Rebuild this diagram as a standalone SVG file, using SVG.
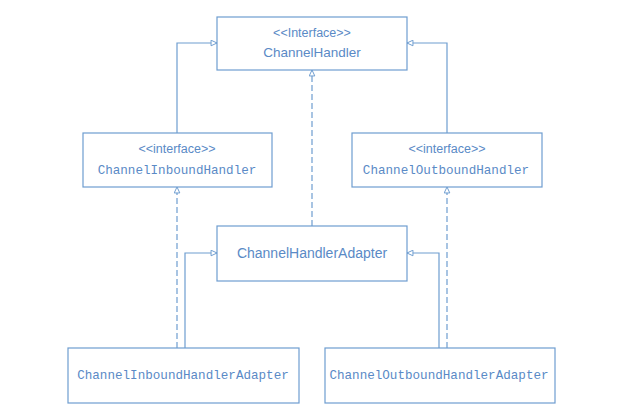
<svg xmlns="http://www.w3.org/2000/svg" width="626" height="419" viewBox="0 0 626 419">
<style>
.box{fill:#ffffff;stroke:#6e9dd0;stroke-width:1.2}
.sans{font-family:"Liberation Sans","DejaVu Sans",sans-serif;fill:#5a8ac6;text-anchor:middle}
.mono{font-family:"Liberation Mono","DejaVu Sans Mono",monospace;fill:#5a8ac6;text-anchor:middle;font-size:12.6px}
.line{fill:none;stroke:#6e9dd0;stroke-width:1.2;marker-end:url(#tri)}
.dash{stroke-dasharray:6 3}
</style>
<defs>
<marker id="tri" viewBox="0 0 10 10" refX="9.5" refY="5" markerWidth="7" markerHeight="7" markerUnits="userSpaceOnUse" orient="auto">
<path d="M1,1 L9.5,5 L1,9 Z" fill="#ffffff" stroke="#6e9dd0" stroke-width="1.4"/>
</marker>
</defs>
<rect width="626" height="419" fill="#ffffff"/>
<g id="connectors">
<path class="line" d="M177,133 V43 H217"/>
<path class="line" d="M447,133 V43 H407"/>
<path class="line dash" d="M312,226 V70"/>
<path class="line dash" d="M177,348 V187"/>
<path class="line dash" d="M447,348 V187"/>
<path class="line" d="M185,348 V253 H217"/>
<path class="line" d="M439,348 V253 H407"/>
</g>
<g id="ChannelHandler">
<rect class="box" x="217" y="17" width="190" height="53"/>
<text class="sans" x="312" y="37" font-size="12.5">&lt;&lt;Interface&gt;&gt;</text>
<text class="sans" x="312" y="57" font-size="13.5">ChannelHandler</text>
</g>
<g id="ChannelInboundHandler">
<rect class="box" x="83" y="133" width="189" height="54"/>
<text class="sans" x="177" y="153" font-size="12.5">&lt;&lt;interface&gt;&gt;</text>
<text class="mono" x="177" y="174" font-size="12.5">ChannelInboundHandler</text>
</g>
<g id="ChannelOutboundHandler">
<rect class="box" x="352" y="133" width="190" height="54"/>
<text class="sans" x="447" y="153" font-size="12.5">&lt;&lt;interface&gt;&gt;</text>
<text class="mono" x="446" y="174" font-size="12.5">ChannelOutboundHandler</text>
</g>
<g id="ChannelHandlerAdapter">
<rect class="box" x="217" y="226" width="190" height="55"/>
<text class="sans" x="312" y="258" font-size="14">ChannelHandlerAdapter</text>
</g>
<g id="ChannelInboundHandlerAdapter">
<rect class="box" x="68" y="348" width="231" height="55"/>
<text class="mono" x="183" y="379">ChannelInboundHandlerAdapter</text>
</g>
<g id="ChannelOutboundHandlerAdapter">
<rect class="box" x="325" y="348" width="230" height="55"/>
<text class="mono" x="439" y="379">ChannelOutboundHandlerAdapter</text>
</g>
</svg>
